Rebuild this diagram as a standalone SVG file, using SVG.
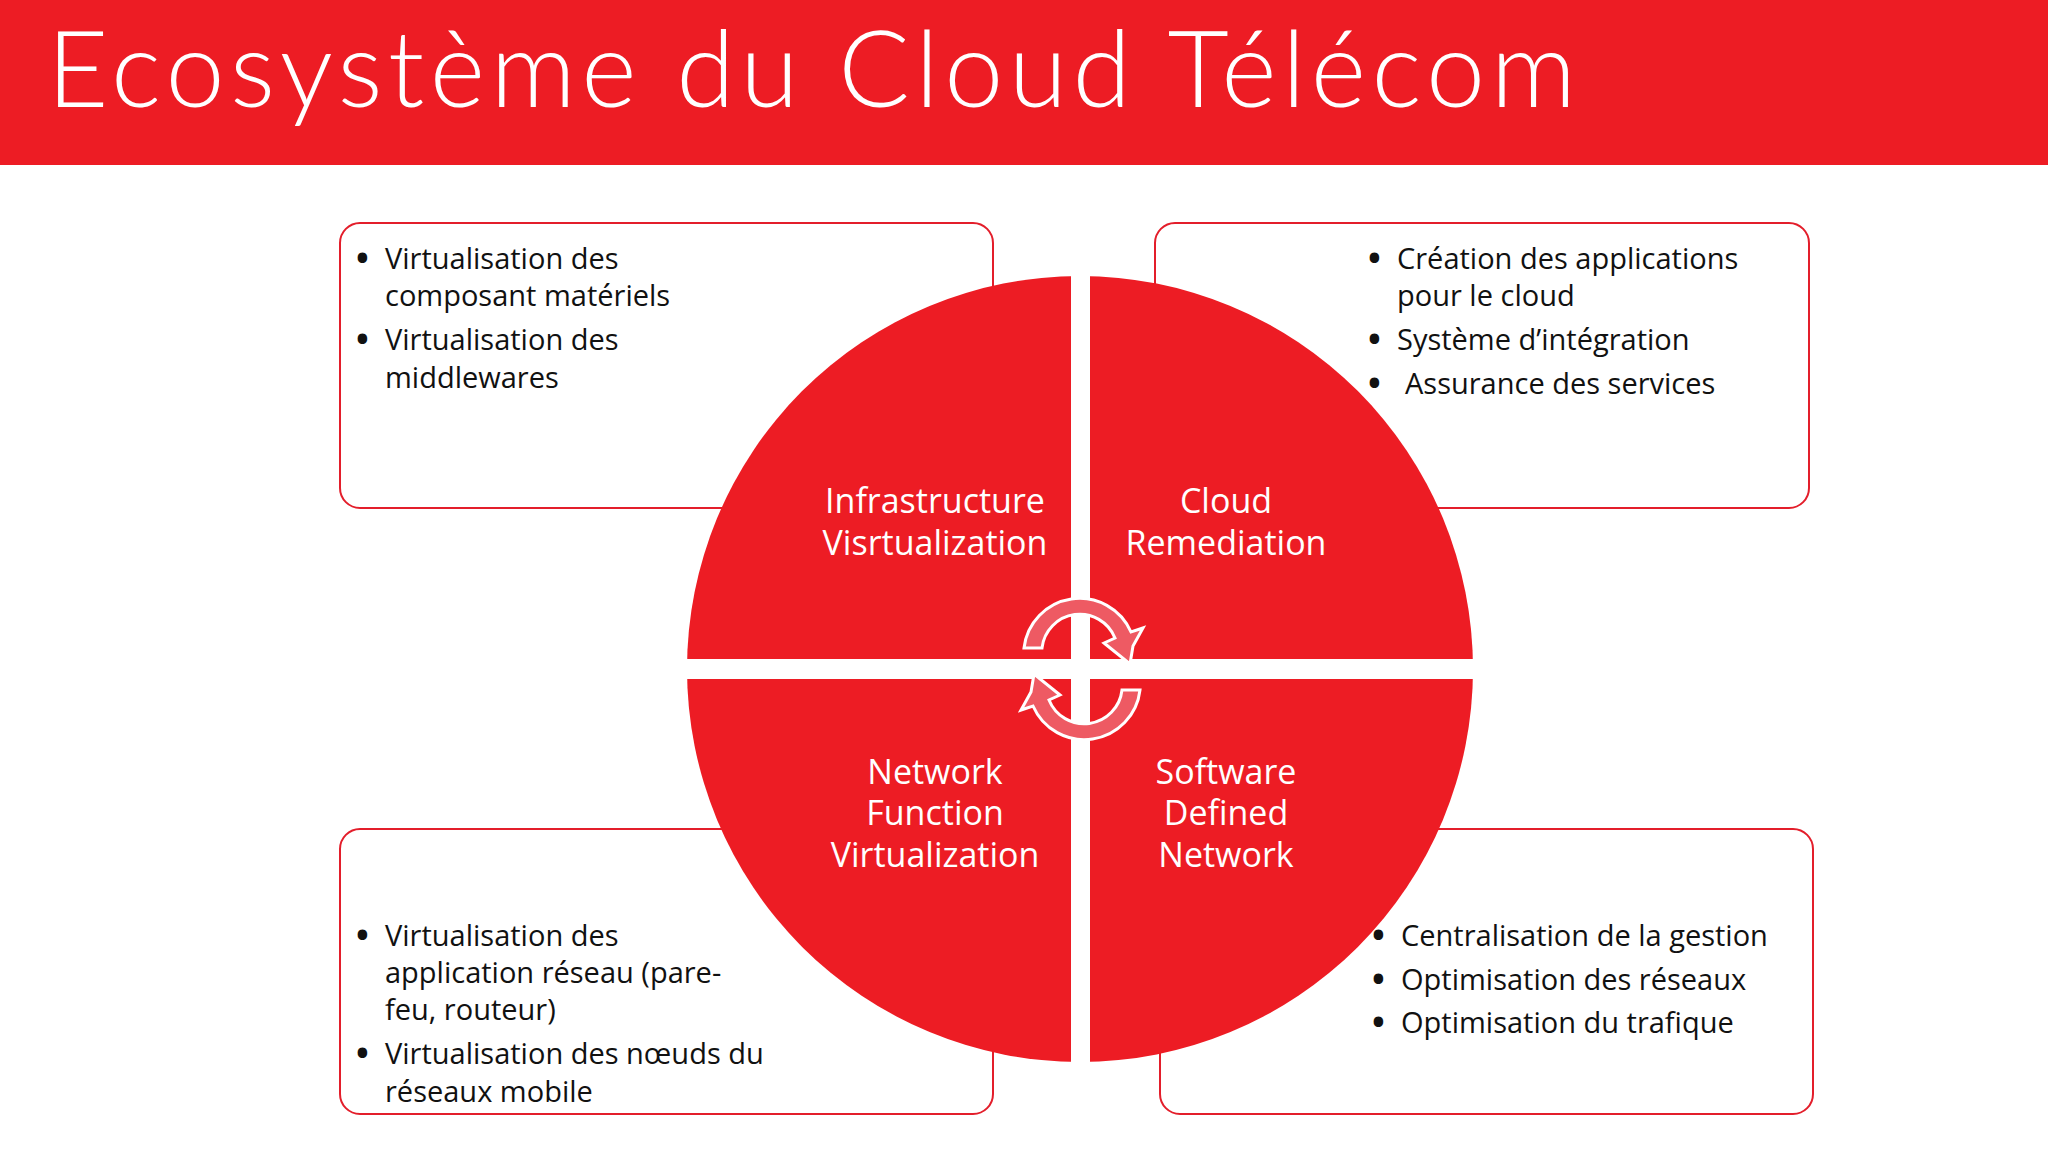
<svg xmlns="http://www.w3.org/2000/svg" width="2048" height="1152" viewBox="0 0 2048 1152">
<style>
.box{fill:#fff;stroke:#E31E2B;stroke-width:2}
.t{font-family:"Open Sans","Noto Sans",sans-serif;font-size:29px;fill:#111}
.b{font-weight:bold;font-size:34px}
.q{font-family:"Open Sans","Noto Sans",sans-serif;font-size:34px;fill:#fff;text-anchor:middle}
.arr{fill:#EE5A63;stroke:#fff;stroke-width:3}
</style>
<rect width="2048" height="1152" fill="#fff"/>
<rect width="2048" height="165" fill="#ED1C24"/>
<text x="47" y="107" font-family="Lato,'Open Sans',sans-serif" font-weight="300" font-size="106" fill="#fff" textLength="1529">Ecosystème du Cloud Télécom</text>
<g id="box-tl"><rect class="box" x="340" y="223" width="653" height="285" rx="20"/>
<text class="t"><tspan class="b" x="356" y="270">•</tspan><tspan x="385" y="269">Virtualisation des</tspan><tspan x="385" y="306">composant matériels</tspan><tspan class="b" x="356" y="351">•</tspan><tspan x="385" y="350">Virtualisation des</tspan><tspan x="385" y="388">middlewares</tspan></text></g>
<g id="box-tr"><rect class="box" x="1155" y="223" width="654" height="285" rx="20"/>
<text class="t"><tspan class="b" x="1368" y="270">•</tspan><tspan x="1397" y="269">Création des applications</tspan><tspan x="1397" y="306">pour le cloud</tspan><tspan class="b" x="1368" y="351">•</tspan><tspan x="1397" y="350">Système d’intégration</tspan><tspan class="b" x="1368" y="395">•</tspan><tspan x="1405" y="394">Assurance des services</tspan></text></g>
<g id="box-bl"><rect class="box" x="340" y="829" width="653" height="285" rx="20"/>
<text class="t"><tspan class="b" x="356" y="947">•</tspan><tspan x="385" y="946">Virtualisation des</tspan><tspan x="385" y="983">application réseau (pare-</tspan><tspan x="385" y="1020">feu, routeur)</tspan><tspan class="b" x="356" y="1065">•</tspan><tspan x="385" y="1064">Virtualisation des nœuds du</tspan><tspan x="385" y="1102">réseaux mobile</tspan></text></g>
<g id="box-br"><rect class="box" x="1160" y="829" width="653" height="285" rx="20"/>
<text class="t"><tspan class="b" x="1372" y="947">•</tspan><tspan x="1401" y="946">Centralisation de la gestion</tspan><tspan class="b" x="1372" y="991">•</tspan><tspan x="1401" y="990">Optimisation des réseaux</tspan><tspan class="b" x="1372" y="1034">•</tspan><tspan x="1401" y="1033">Optimisation du trafique</tspan></text></g>
<g id="circle">
<circle cx="1080" cy="669" r="393" fill="#ED1C24"/>
<rect x="1071" y="270" width="19" height="800" fill="#fff"/>
<rect x="680" y="659" width="800" height="20" fill="#fff"/>
</g>
<g id="q-infra"><text class="q"><tspan x="935" y="513">Infrastructure</tspan><tspan x="935" y="555">Visrtualization</tspan></text></g>
<g id="q-cloud"><text class="q"><tspan x="1226" y="513">Cloud</tspan><tspan x="1226" y="555">Remediation</tspan></text></g>
<g id="q-nfv"><text class="q"><tspan x="935" y="784">Network</tspan><tspan x="935" y="825">Function</tspan><tspan x="935" y="867">Virtualization</tspan></text></g>
<g id="q-sdn"><text class="q"><tspan x="1226" y="784">Software</tspan><tspan x="1226" y="825">Defined</tspan><tspan x="1226" y="867">Network</tspan></text></g>
<g id="connectors">
<path id="arrow-top" class="arr" d="M1042,648 L1024,648 A56,56 0 0 1 1131,632 L1143,628 L1133,646 L1130,664 L1104,643 L1115,638 A38,38 0 0 0 1042,648 Z"/>
<path class="arr" transform="rotate(180 1082 669)" d="M1042,648 L1024,648 A56,56 0 0 1 1131,632 L1143,628 L1133,646 L1130,664 L1104,643 L1115,638 A38,38 0 0 0 1042,648 Z"/>
</g>
</svg>
